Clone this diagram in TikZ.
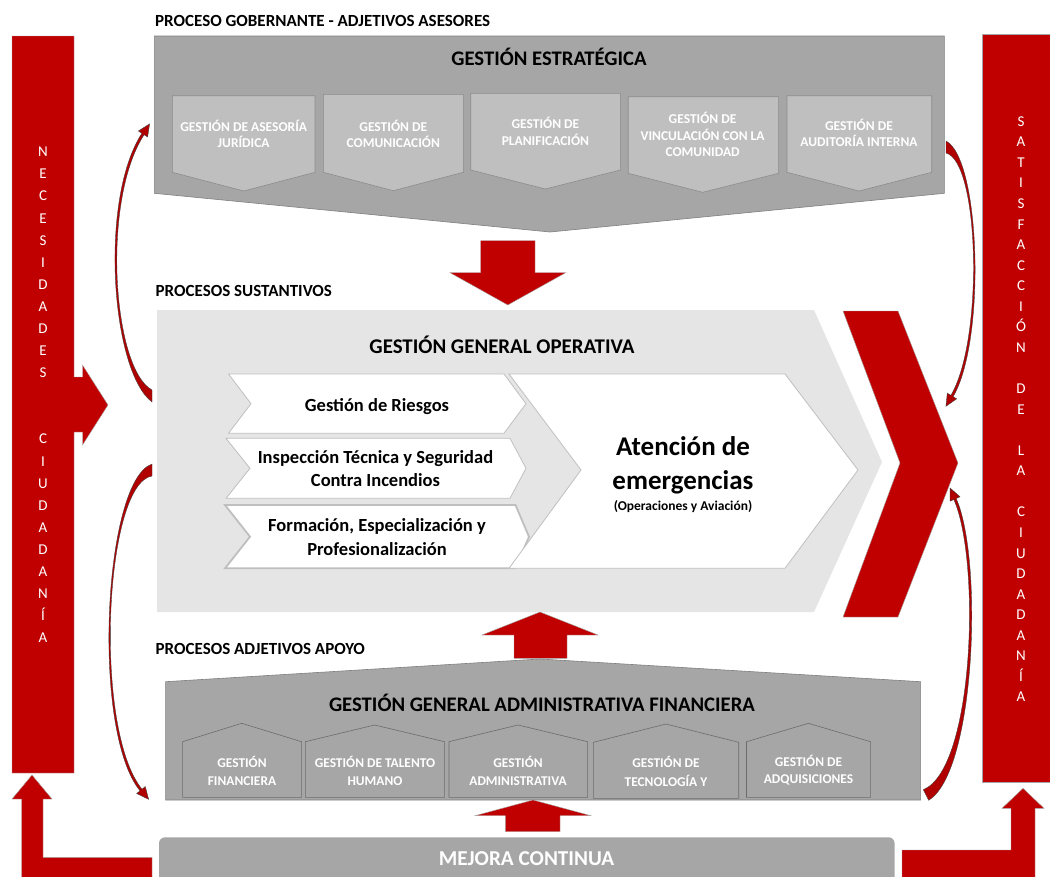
\documentclass[tikz,border=0pt]{standalone}
\usepackage{fontspec}
\setmainfont{Carlito}
\definecolor{cred}{HTML}{C00000}
\definecolor{cgray}{HTML}{A6A6A6}
\definecolor{cgrayd}{HTML}{7F7F7F}
\definecolor{clight}{HTML}{BFBFBF}
\definecolor{cpale}{HTML}{E5E5E5}
\definecolor{cchevb}{HTML}{BFBFBF}
\newcommand\setfs[1]{\fontsize{#1}{#1}\selectfont}
\tikzset{
  redshape/.style={fill=cred, draw=gray!70, line width=0.4},
  curv/.style={fill=cred!92!black, draw=gray!50!black, line width=0.35},
  darkbox/.style={fill=cgray, draw=cgrayd, line width=0.6},
  pent/.style={fill=clight, draw=cgrayd!90, line width=0.6},
  house/.style={fill=cgray, draw=cgrayd!85!black, line width=0.6},
  chev/.style={fill=white, draw=cchevb, line width=0.8},
  chevthick/.style={fill=white, draw=cchevb, line width=1.8},
  txt/.style={inner sep=0, anchor=base},
  sectitle/.style={txt, anchor=base west, font=\setfs{17}\bfseries},
  boxtitle/.style={txt, font=\setfs{20.7}\bfseries},
  ptext/.style={txt, text=white, font=\setfs{13.5}\bfseries},
  htext/.style={txt, text=white, font=\setfs{13.4}\bfseries},
  ctext/.style={txt, font=\setfs{18.5}\bfseries},
  sidel/.style={txt, text=white, font=\setfs{15}}
}
\begin{document}
\begin{tikzpicture}[x=1pt,y=-1pt]
\useasboundingbox (0,0) rectangle (1050,876);
\clip (0,0) rectangle (1050,876);
\fill[white] (0,0) rectangle (1050,876);

% ---------- side bars ----------
\draw[redshape] (12,36) -- (74,36) -- (74,377) -- (82.5,377) -- (82.5,365) -- (108,405)
  -- (82.5,445) -- (82.5,432) -- (74,432) -- (74,773) -- (12,773) -- cycle;
\draw[redshape] (982.5,34) rectangle (1062,782);
\foreach \l [count=\i from 0] in {N,E,C,E,S,I,D,A,D,E,S,{},{},C,I,U,D,A,D,A,N,Í,A}
  \node[sidel] (nl\i) at (43,{152+22.09*\i+4.8}) {\l};
\foreach \l [count=\i from 0] in {S,A,T,I,S,F,A,C,C,I,Ó,N,{},D,E,{},L,A,{},C,I,U,D,A,D,A,N,Í,A}
  \node[sidel] (nr\i) at (1021,{121.5+20.56*\i+4.8}) {\l};

% ---------- bottom L arrows ----------
\draw[redshape] (152,857.3) -- (43,857.3) -- (43,799) -- (52,799) -- (32,775) -- (12,799)
  -- (21.7,799) -- (21.7,885) -- (152,885) -- cycle;
\draw[redshape] (902,850) -- (1011,850) -- (1011,808.3) -- (1002,808.3) -- (1023,788.3)
  -- (1044,808.3) -- (1035,808.3) -- (1035,885) -- (902,885) -- cycle;

% ---------- top: proceso gobernante ----------
\node[sectitle] (tgob) at (155,26) {PROCESO GOBERNANTE - ADJETIVOS ASESORES};
\draw[darkbox] (154.3,36) -- (944.3,36) -- (944.3,193.3) -- (550,232) -- (154.3,193.3) -- cycle;
\node[boxtitle] (testr) at (549,65) {GESTIÓN ESTRATÉGICA};
\draw[pent] (172.3,95.7) -- (315,95.7) -- (315,172.3) -- (243.7,191) -- (172.3,172.3) -- cycle;
\draw[pent] (323.3,94.3) -- (463.3,94.3) -- (463.3,172.3) -- (393.3,190.7) -- (323.3,172.3) -- cycle;
\draw[pent] (470.7,93.3) -- (620.4,93.3) -- (620.4,170) -- (545.4,189) -- (470.7,170) -- cycle;
\draw[pent] (628.2,96.7) -- (778.6,96.7) -- (778.6,173.3) -- (702.6,192.3) -- (628.2,173.3) -- cycle;
\draw[pent] (787,95.7) -- (931.7,95.7) -- (931.7,172.3) -- (859,191) -- (787,172.3) -- cycle;
\node[ptext] (p1a) at (243.7,131) {GESTIÓN DE ASESORÍA};
\node[ptext] (p1b) at (243.7,147) {JURÍDICA};
\node[ptext] (p2a) at (393.3,131) {GESTIÓN DE};
\node[ptext] (p2b) at (393.3,147) {COMUNICACIÓN};
\node[ptext] (p3a) at (545.4,128) {GESTIÓN DE};
\node[ptext] (p3b) at (545.4,145) {PLANIFICACIÓN};
\node[ptext] (p4a) at (702.6,123) {GESTIÓN DE};
\node[ptext] (p4b) at (702.6,140) {VINCULACIÓN CON LA};
\node[ptext] (p4c) at (702.6,156.7) {COMUNIDAD};
\node[ptext] (p5a) at (859,130.7) {GESTIÓN DE};
\node[ptext] (p5b) at (859,146.7) {AUDITORÍA INTERNA};

% down arrow
\draw[redshape] (480.7,240.7) -- (535,240.7) -- (535,272.7) -- (565.7,272.7) -- (507.8,305)
  -- (450,272.7) -- (480.7,272.7) -- cycle;

% ---------- middle: procesos sustantivos ----------
\node[sectitle] (tsus) at (155.5,296.7) {PROCESOS SUSTANTIVOS};
\fill[cpale] (157,310) -- (814,310) -- (882,462) -- (814,612) -- (157,612) -- cycle;
\node[boxtitle, font=\setfs{20.9}\bfseries] (toper) at (502,353) {GESTIÓN GENERAL OPERATIVA};
\draw[chev] (228.5,374) -- (504,374) -- (526,403.7) -- (504,433.3) -- (228.5,433.3) -- (251,403.7) -- cycle;
\draw[chev] (226,438.3) -- (510,438.3) -- (526,468.3) -- (510,498.3) -- (226,498.3) -- (250,468.3) -- cycle;
\draw[chevthick] (225,505) -- (515.5,505) -- (529,536.7) -- (515.5,568.3) -- (225,568.3) -- (250,536.7) -- cycle;
\draw[chev] (509,374) -- (785,374) -- (858,470) -- (785,568.3) -- (509,568.3) -- (581,470) -- cycle;
\node[ctext] (c1) at (377,411.7) {Gestión de Riesgos};
\node[ctext] (c2a) at (375.5,463.3) {Inspección Técnica y Seguridad};
\node[ctext] (c2b) at (375.5,486.7) {Contra Incendios};
\node[ctext] (c3a) at (377,531.7) {Formación, Especialización y};
\node[ctext] (c3b) at (377,555) {Profesionalización};
\node[txt, font=\setfs{27}\bfseries] (ata) at (683,455) {Atención de};
\node[txt, font=\setfs{27}\bfseries] (atb) at (683,489.3) {emergencias};
\node[txt, font=\setfs{13.5}\bfseries] (atc) at (683,510) {(Operaciones y Aviación)};
\draw[redshape] (843,311) -- (898,311) -- (958,463) -- (898,617) -- (843,617) -- (900,463) -- cycle;

% up arrow (middle)
\draw[redshape] (514,658.3) -- (514,635) -- (482,635) -- (540,612) -- (598,635) -- (567,635)
  -- (567,658.3) -- cycle;

% ---------- bottom: procesos adjetivos apoyo ----------
\node[sectitle] (tapo) at (155.5,654.3) {PROCESOS ADJETIVOS APOYO};
\draw[darkbox] (165.6,681.7) -- (540,659) -- (920.6,681.7) -- (920.6,800) -- (165.6,800) -- cycle;
\node[boxtitle] (tadm) at (542,711.7) {GESTIÓN GENERAL ADMINISTRATIVA FINANCIERA};
\draw[house] (182.6,797.3) -- (182.6,741.7) -- (241.7,723.3) -- (301.6,741.7) -- (301.6,797.3) -- cycle;
\draw[house] (305.3,797.3) -- (305.3,741.7) -- (374.6,725) -- (444.6,741.7) -- (444.6,797.3) -- cycle;
\draw[house] (449,797.3) -- (449,741.7) -- (518,725) -- (587.6,741.7) -- (587.6,797.3) -- cycle;
\draw[house] (593.4,798.3) -- (593.4,742.3) -- (666,724) -- (738.7,742.3) -- (738.7,798.3) -- cycle;
\draw[house] (746.5,797.3) -- (746.5,741.7) -- (808.4,723.3) -- (870.6,741.7) -- (870.6,797.3) -- cycle;
\node[htext] (h1a) at (242,767) {GESTIÓN};
\node[htext] (h1b) at (242,785) {FINANCIERA};
\node[htext] (h2a) at (375,767) {GESTIÓN DE TALENTO};
\node[htext] (h2b) at (375,785) {HUMANO};
\node[htext] (h3a) at (518,767) {GESTIÓN};
\node[htext] (h3b) at (518,785) {ADMINISTRATIVA};
\node[htext] (h4a) at (666,767.7) {GESTIÓN DE};
\node[htext] (h4b) at (666,786) {TECNOLOGÍA Y};
\node[htext] (h5a) at (808.5,766.7) {GESTIÓN DE};
\node[htext] (h5b) at (808.5,783.3) {ADQUISICIONES};

% up arrow (bottom)
\draw[redshape] (505.4,831.7) -- (505.4,815.7) -- (475,815.7) -- (533,800) -- (591,815.7)
  -- (560,815.7) -- (560,831.7) -- cycle;

% mejora continua
\fill[cgray, rounded corners=6] (159,837.3) rectangle (894.6,900);
\node[txt, text=white, font=\setfs{21.2}\bfseries] (mej) at (526.5,865) {MEJORA CONTINUA};

% ---------- curved arrows ----------
\filldraw[curv] (152,402) .. controls (111.2,371.3) and (98.9,199.3) .. (141.9,133.3)
  -- (138.4,131.0) -- (149.6,123.9) -- (147.6,137.0) -- (144.1,134.7)
  .. controls (101.1,200.7) and (112.8,368.7) .. (152,390) -- cycle;
\filldraw[curv] (152,464) .. controls (103.6,480.5) and (91,730.8) .. (140,790.8)
  -- (136.7,793.5) -- (148.6,799.3) -- (145.3,786.5) -- (142,789.2)
  .. controls (93,729.2) and (104.4,483.5) .. (152,476) -- cycle;
\filldraw[curv] (946,141) .. controls (980.5,158.6) and (986.1,340.7) .. (953.1,396.7)
  -- (956.7,398.8) -- (945.9,406.3) -- (947.3,393.2) -- (950.9,395.3)
  .. controls (983.9,339.3) and (979.5,161.4) .. (946,153) -- cycle;
\filldraw[curv] (928.7,800.3) .. controls (975.7,771.3) and (983.2,559.5) .. (956.2,498.5)
  -- (960,496.8) -- (950.1,488) -- (950,501.2) -- (953.8,499.5)
  .. controls (980.8,560.5) and (974.3,768.7) .. (923.3,789.7) -- cycle;
\end{tikzpicture}
\end{document}
